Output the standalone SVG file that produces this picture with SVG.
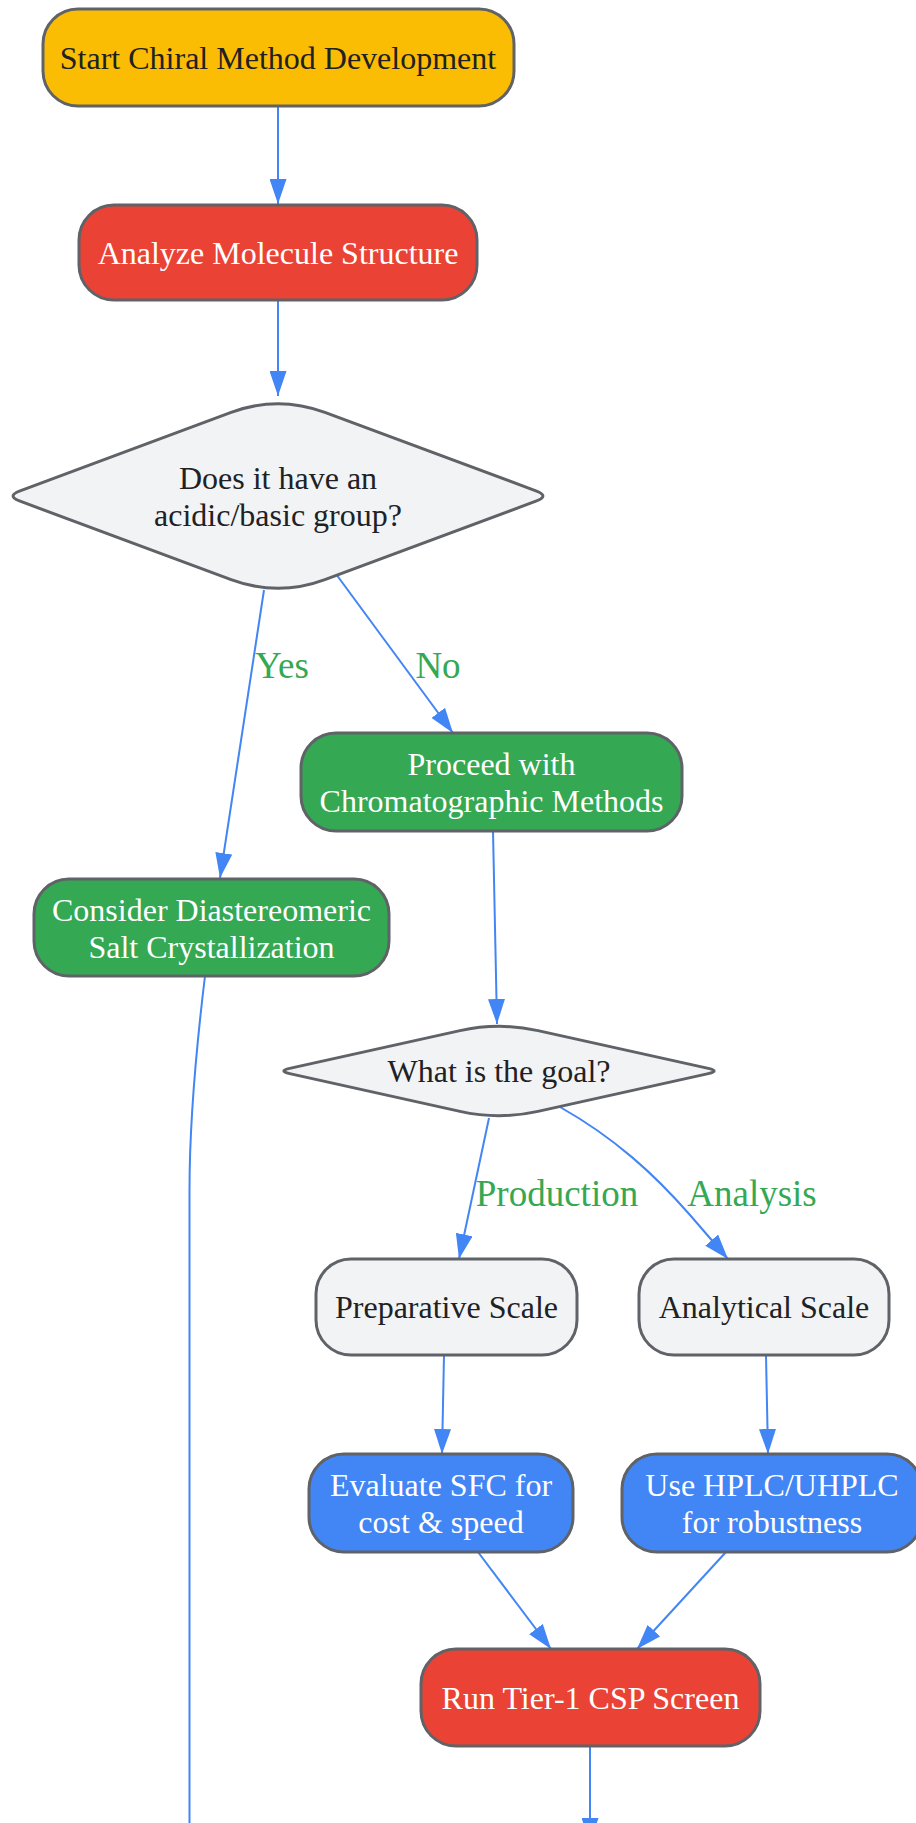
<svg xmlns="http://www.w3.org/2000/svg" width="916" height="1823" viewBox="0 0 916 1823">
<defs>
<marker id="arr" viewBox="0 0 25 17" refX="25" refY="8.5" markerWidth="25" markerHeight="17" markerUnits="userSpaceOnUse" orient="auto">
<path d="M0,0 L25,8.5 L0,17 Z" fill="#4285F4"/>
</marker>
<style>
.n{stroke:#5F6368;stroke-width:3}
.t{font-family:"Liberation Serif","Times New Roman",serif;font-size:32px;text-anchor:middle}
.d{fill:#202124}
.w{fill:#FFFFFF}
.e{fill:none;stroke:#4285F4;stroke-width:2}
.l{font-family:"Liberation Serif","Times New Roman",serif;font-size:37px;text-anchor:middle;fill:#34A853}
</style>
</defs>
<rect width="916" height="1823" fill="#FFFFFF"/>
<g id="connectors">
<path class="e" d="M278,106 L278,204" marker-end="url(#arr)"/>
<path class="e" d="M278,300 L278,396" marker-end="url(#arr)"/>
<path class="e" d="M264,590 L220,878" marker-end="url(#arr)"/>
<path class="e" d="M336,574 L453,733" marker-end="url(#arr)"/>
<path class="e" d="M493,831 L497,1024" marker-end="url(#arr)"/>
<path class="e" d="M205,976 C196,1050 189.5,1120 189.5,1190 L189.5,1830"/>
<path class="e" d="M489,1118 L459,1259" marker-end="url(#arr)"/>
<path class="e" d="M560,1107 C615,1138 655,1175 690,1215 L728,1259" marker-end="url(#arr)"/>
<path class="e" d="M444,1355 L442,1454" marker-end="url(#arr)"/>
<path class="e" d="M766,1355 L768,1454" marker-end="url(#arr)"/>
<path class="e" d="M478,1552 L551,1649" marker-end="url(#arr)"/>
<path class="e" d="M726,1552 L637,1649" marker-end="url(#arr)"/>
<path class="e" d="M590,1746 L590,1843" marker-end="url(#arr)"/>
<text class="l" x="282" y="678">Yes</text>
<text class="l" x="438" y="678">No</text>
<text class="l" x="557" y="1206">Production</text>
<text class="l" x="752" y="1206">Analysis</text>
</g>
<g id="start">
<rect class="n" x="43" y="9" width="471" height="97" rx="35" fill="#FBBC04"/>
<text class="t d" x="278" y="69">Start Chiral Method Development</text>
</g>
<g id="analyze">
<rect class="n" x="79" y="205" width="398" height="95" rx="35" fill="#EA4335"/>
<text class="t w" x="278" y="264">Analyze Molecule Structure</text>
</g>
<g id="acidbase">
<path class="n" fill="#F1F3F4" d="M324.9,412.4 L535.9,490.8 Q550,496 535.9,501.2 L324.9,579.6 Q278,597 231.1,579.6 L20.1,501.2 Q6,496 20.1,490.8 L231.1,412.4 Q278,395 324.9,412.4 Z"/>
<text class="t d" x="278" y="489">Does it have an</text>
<text class="t d" x="278" y="526">acidic/basic group?</text>
</g>
<g id="proceed">
<rect class="n" x="301" y="733" width="381" height="98" rx="35" fill="#34A853"/>
<text class="t w" x="491.5" y="775">Proceed with</text>
<text class="t w" x="491.5" y="812">Chromatographic Methods</text>
</g>
<g id="salt">
<rect class="n" x="34" y="879" width="355" height="97" rx="35" fill="#34A853"/>
<text class="t w" x="211.5" y="920.5">Consider Diastereomeric</text>
<text class="t w" x="211.5" y="957.5">Salt Crystallization</text>
</g>
<g id="goal">
<path class="n" fill="#F1F3F4" d="M538,1030.66 L708.3,1068.4 Q720,1071 708.3,1073.6 L538,1111.34 Q499,1120 460,1111.34 L289.7,1073.6 Q278,1071 289.7,1068.4 L460,1030.66 Q499,1022 538,1030.66 Z"/>
<text class="t d" x="499" y="1082">What is the goal?</text>
</g>
<g id="prep">
<rect class="n" x="316" y="1259" width="261" height="96" rx="35" fill="#F1F3F4"/>
<text class="t d" x="446.5" y="1318">Preparative Scale</text>
</g>
<g id="analytical">
<rect class="n" x="639" y="1259" width="250" height="96" rx="35" fill="#F1F3F4"/>
<text class="t d" x="764" y="1318">Analytical Scale</text>
</g>
<g id="sfc">
<rect class="n" x="309" y="1454" width="264" height="98" rx="35" fill="#4285F4"/>
<text class="t w" x="441" y="1496">Evaluate SFC for</text>
<text class="t w" x="441" y="1533">cost &amp; speed</text>
</g>
<g id="hplc">
<rect class="n" x="622" y="1454" width="300" height="98" rx="35" fill="#4285F4"/>
<text class="t w" x="772" y="1496">Use HPLC/UHPLC</text>
<text class="t w" x="772" y="1533">for robustness</text>
</g>
<g id="tier1">
<rect class="n" x="421" y="1649" width="339" height="97" rx="35" fill="#EA4335"/>
<text class="t w" x="590.5" y="1709">Run Tier-1 CSP Screen</text>
</g>
</svg>
